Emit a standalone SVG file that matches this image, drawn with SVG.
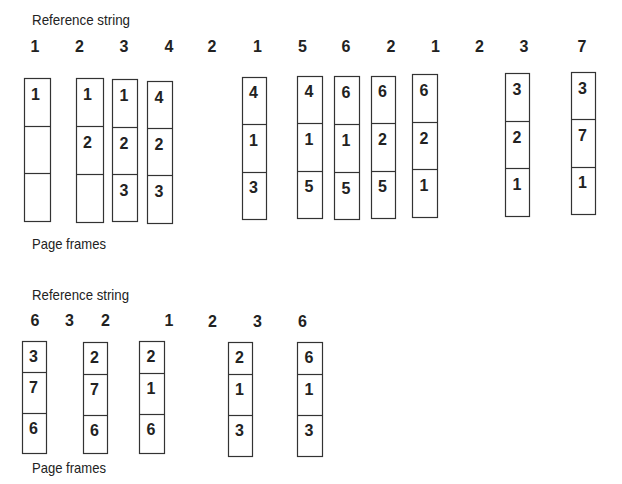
<svg xmlns="http://www.w3.org/2000/svg" width="622" height="484" viewBox="0 0 622 484">
<style>
.bg{fill:#fff}
.fr{fill:none;stroke:#333;stroke-width:1.2}
.lbl{font-family:"Liberation Sans",Arial,sans-serif;font-size:15px;fill:#222}
.num{font-family:"Liberation Sans",Arial,sans-serif;font-size:16px;font-weight:bold;fill:#222;text-anchor:middle}
</style>
<rect class="bg" x="0" y="0" width="622" height="484"/>

<g id="labels">
<text class="lbl" x="32" y="25" textLength="98" lengthAdjust="spacingAndGlyphs">Reference string</text>
<text class="lbl" x="32" y="249" textLength="74" lengthAdjust="spacingAndGlyphs">Page frames</text>
<text class="lbl" x="32" y="300" textLength="97" lengthAdjust="spacingAndGlyphs">Reference string</text>
<text class="lbl" x="32" y="473" textLength="74" lengthAdjust="spacingAndGlyphs">Page frames</text>
</g>

<g id="refstring1">
<text class="num" x="35" y="52">1</text>
<text class="num" x="79.5" y="52">2</text>
<text class="num" x="124" y="52">3</text>
<text class="num" x="169" y="52">4</text>
<text class="num" x="212" y="52">2</text>
<text class="num" x="257.5" y="52">1</text>
<text class="num" x="302.5" y="52">5</text>
<text class="num" x="346" y="52">6</text>
<text class="num" x="391" y="52">2</text>
<text class="num" x="435.5" y="52">1</text>
<text class="num" x="479.5" y="52">2</text>
<text class="num" x="524" y="52">3</text>
<text class="num" x="582" y="52">7</text>
</g>

<g id="refstring2">
<text class="num" x="35" y="326">6</text>
<text class="num" x="69.5" y="326">3</text>
<text class="num" x="105.5" y="326">2</text>
<text class="num" x="169" y="326">1</text>
<text class="num" x="212.5" y="327">2</text>
<text class="num" x="257.5" y="327">3</text>
<text class="num" x="302.5" y="327">6</text>
</g>

<g id="frame1">
<rect class="fr" x="24.5" y="78.5" width="26" height="143"/>
<line class="fr" x1="24.5" y1="126.5" x2="50.5" y2="126.5"/>
<line class="fr" x1="24.5" y1="173.5" x2="50.5" y2="173.5"/>
<text class="num" x="35.5" y="100">1</text>
</g>
<g id="frame2">
<rect class="fr" x="76.5" y="78.5" width="27" height="144"/>
<line class="fr" x1="76.5" y1="126.5" x2="103.5" y2="126.5"/>
<line class="fr" x1="76.5" y1="174.5" x2="103.5" y2="174.5"/>
<text class="num" x="87.5" y="100">1</text>
<text class="num" x="87.5" y="148">2</text>
</g>
<g id="frame3">
<rect class="fr" x="112.5" y="79.5" width="25" height="142"/>
<line class="fr" x1="112.5" y1="127.5" x2="137.5" y2="127.5"/>
<line class="fr" x1="112.5" y1="174.5" x2="137.5" y2="174.5"/>
<text class="num" x="124" y="101">1</text>
<text class="num" x="124" y="149">2</text>
<text class="num" x="124" y="196">3</text>
</g>
<g id="frame4">
<rect class="fr" x="147.5" y="81.5" width="25" height="142"/>
<line class="fr" x1="147.5" y1="128.5" x2="172.5" y2="128.5"/>
<line class="fr" x1="147.5" y1="175.5" x2="172.5" y2="175.5"/>
<text class="num" x="159" y="103">4</text>
<text class="num" x="159" y="150">2</text>
<text class="num" x="159" y="197">3</text>
</g>
<g id="frame5">
<rect class="fr" x="242.5" y="77.5" width="24" height="142"/>
<line class="fr" x1="242.5" y1="124.5" x2="266.5" y2="124.5"/>
<line class="fr" x1="242.5" y1="172.5" x2="266.5" y2="172.5"/>
<text class="num" x="253.5" y="98">4</text>
<text class="num" x="253.5" y="146">1</text>
<text class="num" x="253.5" y="193">3</text>
</g>
<g id="frame6">
<rect class="fr" x="297.5" y="76.5" width="25" height="142"/>
<line class="fr" x1="297.5" y1="123.5" x2="322.5" y2="123.5"/>
<line class="fr" x1="297.5" y1="171.5" x2="322.5" y2="171.5"/>
<text class="num" x="309" y="97">4</text>
<text class="num" x="309" y="145">1</text>
<text class="num" x="309" y="192">5</text>
</g>
<g id="frame7">
<rect class="fr" x="334.5" y="76.5" width="25" height="143"/>
<line class="fr" x1="334.5" y1="124.5" x2="359.5" y2="124.5"/>
<line class="fr" x1="334.5" y1="172.5" x2="359.5" y2="172.5"/>
<text class="num" x="346" y="98">6</text>
<text class="num" x="346" y="146">1</text>
<text class="num" x="346" y="194">5</text>
</g>
<g id="frame8">
<rect class="fr" x="371.5" y="76.5" width="24" height="142"/>
<line class="fr" x1="371.5" y1="123.5" x2="395.5" y2="123.5"/>
<line class="fr" x1="371.5" y1="171.5" x2="395.5" y2="171.5"/>
<text class="num" x="382.5" y="97">6</text>
<text class="num" x="382.5" y="145">2</text>
<text class="num" x="382.5" y="192">5</text>
</g>
<g id="frame9">
<rect class="fr" x="412.5" y="74.5" width="25" height="143"/>
<line class="fr" x1="412.5" y1="122.5" x2="437.5" y2="122.5"/>
<line class="fr" x1="412.5" y1="169.5" x2="437.5" y2="169.5"/>
<text class="num" x="424" y="96">6</text>
<text class="num" x="424" y="144">2</text>
<text class="num" x="424" y="191">1</text>
</g>
<g id="frame10">
<rect class="fr" x="505.5" y="73.5" width="24" height="143"/>
<line class="fr" x1="505.5" y1="121.5" x2="529.5" y2="121.5"/>
<line class="fr" x1="505.5" y1="168.5" x2="529.5" y2="168.5"/>
<text class="num" x="517" y="95">3</text>
<text class="num" x="517" y="143">2</text>
<text class="num" x="517" y="190">1</text>
</g>
<g id="frame11">
<rect class="fr" x="571.5" y="72.5" width="24" height="142"/>
<line class="fr" x1="571.5" y1="119.5" x2="595.5" y2="119.5"/>
<line class="fr" x1="571.5" y1="167.5" x2="595.5" y2="167.5"/>
<text class="num" x="582.5" y="94">3</text>
<text class="num" x="582.5" y="141">7</text>
<text class="num" x="582.5" y="188">1</text>
</g>

<g id="frame12">
<rect class="fr" x="22.5" y="341.5" width="24" height="112"/>
<line class="fr" x1="22.5" y1="372.5" x2="46.5" y2="372.5"/>
<line class="fr" x1="22.5" y1="413.5" x2="46.5" y2="413.5"/>
<text class="num" x="33.5" y="362">3</text>
<text class="num" x="33.5" y="393">7</text>
<text class="num" x="33.5" y="434">6</text>
</g>
<g id="frame13">
<rect class="fr" x="83.5" y="342.5" width="24" height="111"/>
<line class="fr" x1="83.5" y1="374.5" x2="107.5" y2="374.5"/>
<line class="fr" x1="83.5" y1="415.5" x2="107.5" y2="415.5"/>
<text class="num" x="94.5" y="363">2</text>
<text class="num" x="94.5" y="395">7</text>
<text class="num" x="94.5" y="436">6</text>
</g>
<g id="frame14">
<rect class="fr" x="139.5" y="341.5" width="25" height="112"/>
<line class="fr" x1="139.5" y1="373.5" x2="164.5" y2="373.5"/>
<line class="fr" x1="139.5" y1="414.5" x2="164.5" y2="414.5"/>
<text class="num" x="151" y="362">2</text>
<text class="num" x="151" y="394">1</text>
<text class="num" x="151" y="435">6</text>
</g>
<g id="frame15">
<rect class="fr" x="228.5" y="342.5" width="24" height="114"/>
<line class="fr" x1="228.5" y1="374.5" x2="252.5" y2="374.5"/>
<line class="fr" x1="228.5" y1="415.5" x2="252.5" y2="415.5"/>
<text class="num" x="239.5" y="363">2</text>
<text class="num" x="239.5" y="395">1</text>
<text class="num" x="239.5" y="436">3</text>
</g>
<g id="frame16">
<rect class="fr" x="297.5" y="342.5" width="25" height="114"/>
<line class="fr" x1="297.5" y1="374.5" x2="322.5" y2="374.5"/>
<line class="fr" x1="297.5" y1="415.5" x2="322.5" y2="415.5"/>
<text class="num" x="309" y="363">6</text>
<text class="num" x="309" y="395">1</text>
<text class="num" x="309" y="436">3</text>
</g>
</svg>
